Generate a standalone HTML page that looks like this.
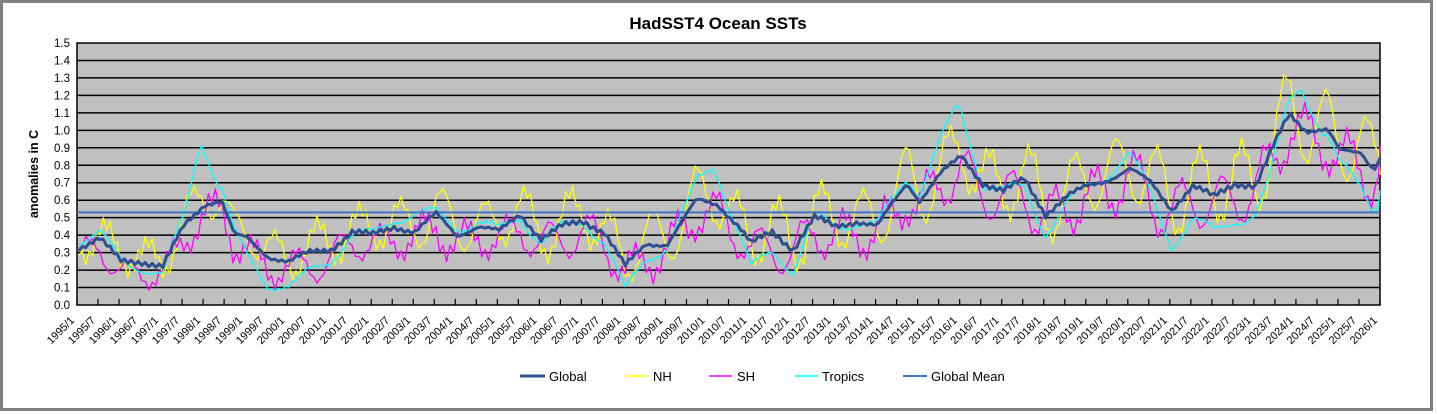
<!DOCTYPE html>
<html><head><meta charset="utf-8"><style>
body{margin:0;background:#fff;}
svg{display:block;font-family:"Liberation Sans",Arial,sans-serif;}
</style></head><body>
<svg id="c" width="1437" height="414" xmlns="http://www.w3.org/2000/svg">
<rect x="1.5" y="1.5" width="1430" height="408" fill="#fff" stroke="#808080" stroke-width="3"/>
<text x="718" y="29" text-anchor="middle" font-size="17" font-weight="bold">HadSST4 Ocean SSTs</text>
<rect x="77" y="43" width="1303" height="262" fill="#c0c0c0" stroke="#000" stroke-width="1.5"/>
<g id="grid"></g>
<g id="ylab" font-size="11.5" text-anchor="end"></g>
<g id="xlab" font-size="11"></g>
<text transform="translate(38,174) rotate(-90)" text-anchor="middle" font-size="12.5" font-weight="bold">anomalies in C</text>
<g id="series" fill="none" stroke-linejoin="round"></g>
<g font-size="13">
<line x1="520" y1="376" x2="545" y2="376" stroke="#2f4f8f" stroke-width="3"/><text x="549" y="381">Global</text>
<line x1="625" y1="376" x2="648" y2="376" stroke="#ffff00" stroke-width="1.5"/><text x="653" y="381">NH</text>
<line x1="709" y1="376" x2="732" y2="376" stroke="#ff00ff" stroke-width="1.5"/><text x="737" y="381">SH</text>
<line x1="795" y1="376" x2="818" y2="376" stroke="#00ffff" stroke-width="1.5"/><text x="822" y="381">Tropics</text>
<line x1="903" y1="376" x2="927" y2="376" stroke="#4472c4" stroke-width="2"/><text x="931" y="381">Global Mean</text>
</g>
</svg>
<script>
var NS="http://www.w3.org/2000/svg";
function el(p,t,a,txt){var e=document.createElementNS(NS,t);for(var k in a)e.setAttribute(k,a[k]);if(txt!=null)e.textContent=txt;document.getElementById(p).appendChild(e);return e;}
function Y(v){return 305-v*174.67;}
for(var i=0;i<=15;i++){var y=Y(i/10);
 if(i>0&&i<15)el("grid","line",{x1:77,x2:1380,y1:y,y2:y,stroke:"#000","stroke-width":1.5});
 el("ylab","text",{x:70,y:y+4},(i/10).toFixed(1));}
for(var i=0;i<=62;i++){var x=77+i*21.016;
 el("grid","line",{x1:x,x2:x,y1:299,y2:305,stroke:"#000","stroke-width":1.2});
 var yr=1995+Math.floor(i/2),m=(i%2)?7:1;
 var tx=x-2,ty=321;
 el("xlab","text",{x:0,y:0,"text-anchor":"end",transform:"translate("+tx+","+ty+") rotate(-45)"},yr+"/"+m);}
function interp(k,t){if(t<=k[0][0])return k[0][1];for(var i=1;i<k.length;i++){if(t<=k[i][0]){var a=k[i-1],b=k[i],f=(t-a[0])/(b[0]-a[0]);return a[1]+(b[1]-a[1])*f;}}return k[k.length-1][1];}
var G=[[1995,.33],[1995.5,.38],[1996,.25],[1996.5,.25],[1997,.22],[1997.5,.45],[1998,.58],[1998.4,.6],[1998.7,.4],[1999,.38],[1999.5,.28],[2000,.25],[2000.5,.3],[2001,.32],[2001.5,.42],[2002,.4],[2002.5,.45],[2003,.42],[2003.5,.52],[2004,.4],[2004.5,.45],[2005,.42],[2005.5,.52],[2006,.38],[2006.5,.45],[2007,.48],[2007.5,.42],[2008,.22],[2008.5,.35],[2009,.35],[2009.7,.6],[2010.2,.58],[2010.7,.45],[2011,.35],[2011.5,.42],[2012,.32],[2012.5,.5],[2013,.45],[2013.5,.48],[2014,.45],[2014.7,.7],[2015,.6],[2015.5,.75],[2016,.85],[2016.5,.7],[2017,.65],[2017.5,.72],[2018,.52],[2018.5,.62],[2019,.68],[2019.5,.72],[2020,.78],[2020.5,.7],[2021,.55],[2021.5,.68],[2022,.62],[2022.5,.7],[2023,.68],[2023.5,.95],[2023.8,1.1],[2024.2,1.0],[2024.7,1.0],[2025,.88],[2025.5,.88],[2025.8,.78],[2026,.85]];
var T=[[1995,.05],[1996,0],[1997,-.05],[1997.5,.05],[1997.9,.4],[1998.3,.1],[1998.7,0],[1999,-.1],[1999.5,-.15],[2000.2,-.15],[2001,-.05],[2002,0],[2003,.1],[2003.5,0],[2004,.05],[2005,0],[2006,-.02],[2007,.0],[2007.5,-.05],[2008,-.15],[2008.7,-.05],[2009.5,.05],[2010.1,.22],[2010.6,0],[2011,-.15],[2011.6,-.1],[2012,-.12],[2012.5,0],[2014,0],[2015,.05],[2015.9,.3],[2016.5,0],[2017,0],[2018,-.1],[2019,.0],[2020,.08],[2021,-.2],[2022,-.2],[2022.7,-.2],[2023.3,-.15],[2023.7,.05],[2024.1,.25],[2024.6,-.05],[2025.2,-.1],[2025.9,-.25],[2026,-.2]];
function nz(t,s){return .025*Math.sin(t*37.1+s)+.02*Math.sin(t*71.3+2*s)+.015*Math.sin(t*113.7+3*s);}
var pts={g:"",n:"",s:"",t:""};
for(var m=0;m<=372;m++){var t=1995+m/12,x=77+1.75+m*3.503;if(x>1380)x=1380;
 var g=interp(G,t)+nz(t,0)*.6;
 var amp=.1+.12*(t-1995)/31;
 var seas=Math.cos(2*Math.PI*(t-1995-0.68));
 var n=g+amp*seas+.03+nz(t,1);
 var s=g-amp*.8*seas-.06+nz(t,2);
 var tr=g+interp(T,t)+nz(t,3)*1.3;
 pts.g+=x.toFixed(1)+","+Y(g).toFixed(1)+" ";
 pts.n+=x.toFixed(1)+","+Y(n).toFixed(1)+" ";
 pts.s+=x.toFixed(1)+","+Y(s).toFixed(1)+" ";
 pts.t+=x.toFixed(1)+","+Y(tr).toFixed(1)+" ";}
el("series","polyline",{points:pts.n,stroke:"#ffff00","stroke-width":1.3});
el("series","polyline",{points:pts.s,stroke:"#ff00ff","stroke-width":1.3});
el("series","polyline",{points:pts.t,stroke:"#00ffff","stroke-width":1.3});
el("series","line",{x1:77,x2:1380,y1:Y(.53),y2:Y(.53),stroke:"#4472c4","stroke-width":2});
el("series","polyline",{points:pts.g,stroke:"#2f4f8f","stroke-width":3});
</script>
</body></html>
